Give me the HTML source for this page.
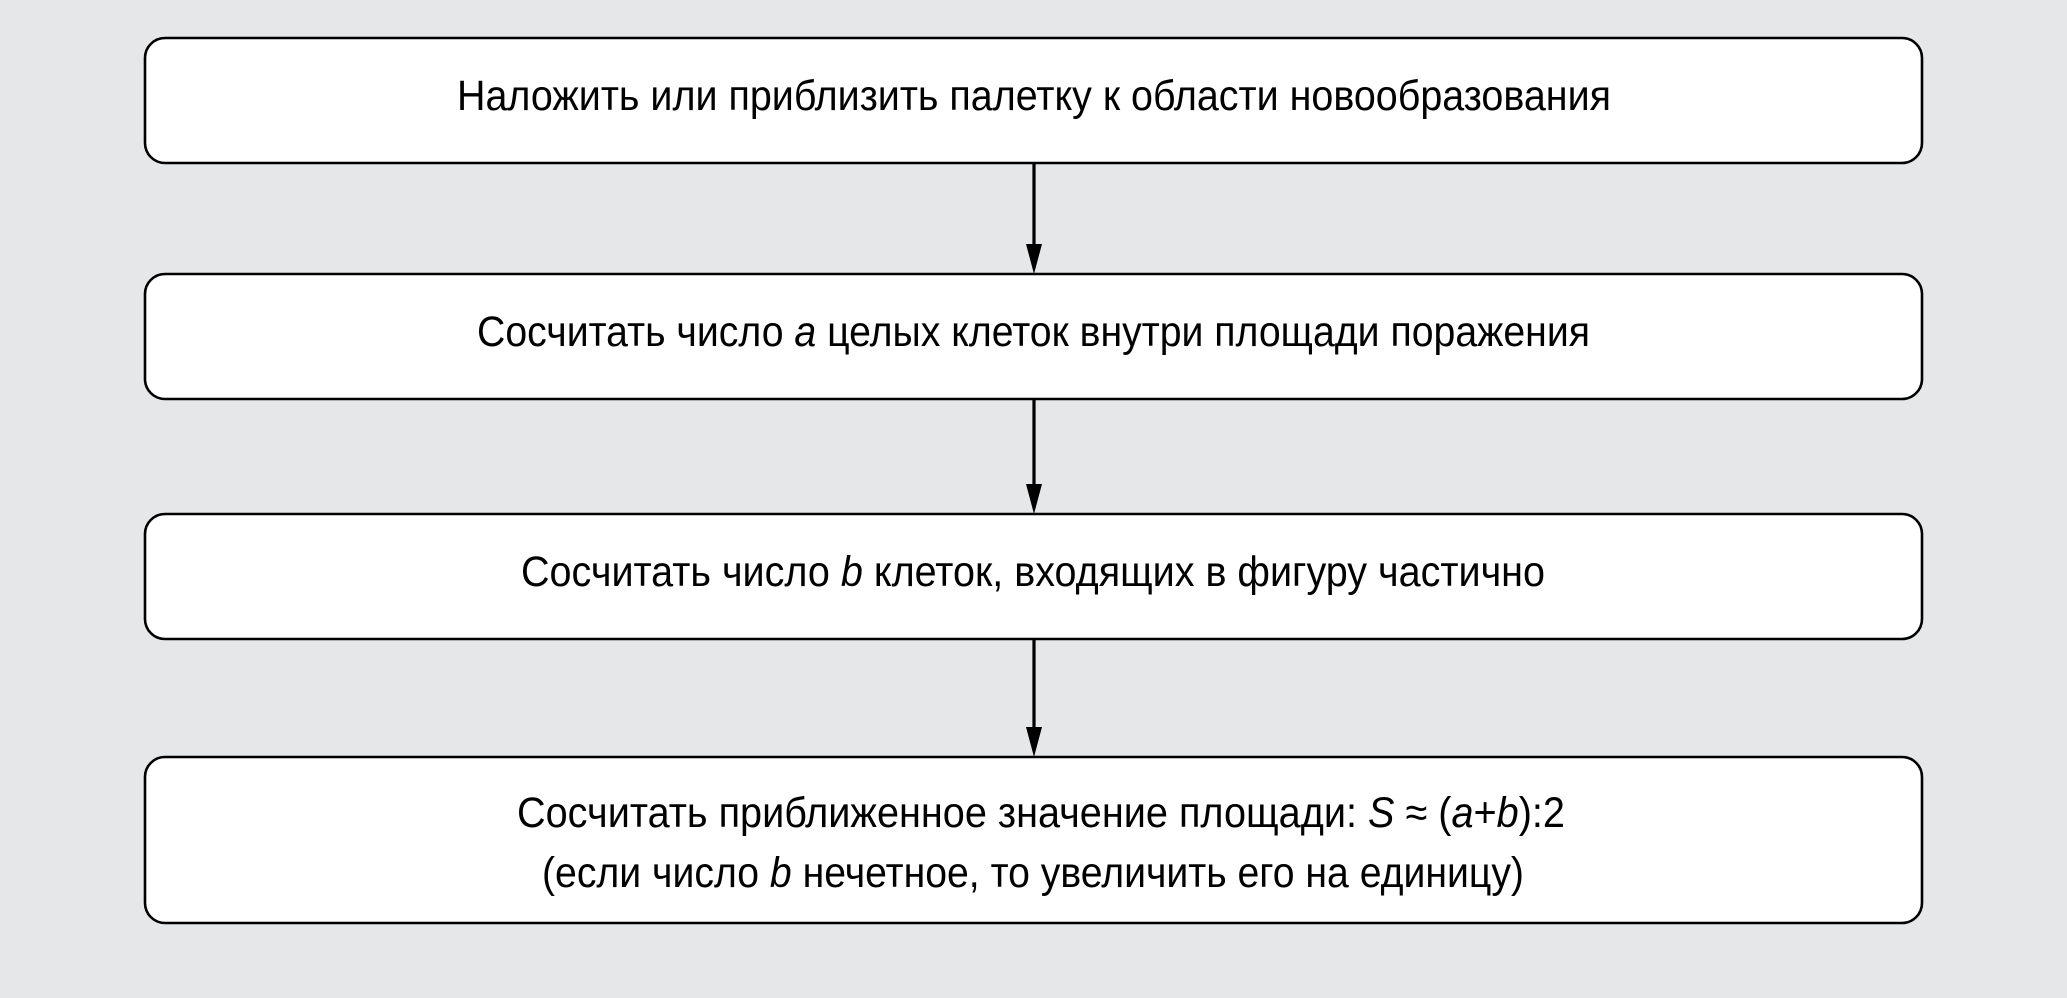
<!DOCTYPE html>
<html><head><meta charset="utf-8"><style>html,body{margin:0;padding:0;background:#e6e7e8;}svg{display:block}</style></head><body>
<svg width="2067" height="998" viewBox="0 0 2067 998" xmlns="http://www.w3.org/2000/svg">
<rect width="2067" height="998" fill="#e6e7e8"/>
<g fill="#fff" stroke="#000" stroke-width="2.6">
<rect x="145" y="38" width="1777" height="125" rx="20"/>
<rect x="145" y="274" width="1777" height="125" rx="20"/>
<rect x="145" y="514" width="1777" height="125" rx="20"/>
<rect x="145" y="757" width="1777" height="166" rx="20"/>
</g>
<g stroke="#000" stroke-width="3.2">
<line x1="1034" y1="163" x2="1034" y2="250"/>
<line x1="1034" y1="399" x2="1034" y2="490"/>
<line x1="1034" y1="639" x2="1034" y2="733"/>
</g>
<g fill="#000">
<polygon points="1026,244 1042,244 1034,274"/>
<polygon points="1026,484 1042,484 1034,514"/>
<polygon points="1026,727 1042,727 1034,757"/>
</g>
<g font-family="'Liberation Sans Narrow','Liberation Sans',sans-serif" font-size="43" fill="#000">
<text x="457" y="110" textLength="1154" lengthAdjust="spacingAndGlyphs">Наложить или приблизить палетку к области новообразования</text>
<text x="477" y="346" textLength="1113" lengthAdjust="spacingAndGlyphs">Сосчитать число <tspan font-style="italic">a</tspan> целых клеток внутри площади поражения</text>
<text x="521" y="586" textLength="1024" lengthAdjust="spacingAndGlyphs">Сосчитать число <tspan font-style="italic">b</tspan> клеток, входящих в фигуру частично</text>
<text x="517" y="827" textLength="1048" lengthAdjust="spacingAndGlyphs">Сосчитать приближенное значение площади: <tspan font-style="italic">S</tspan> ≈ (<tspan font-style="italic">a</tspan>+<tspan font-style="italic">b</tspan>):2</text>
<text x="542" y="887" textLength="982" lengthAdjust="spacingAndGlyphs">(если число <tspan font-style="italic">b</tspan> нечетное, то увеличить его на единицу)</text>
</g>
</svg>
</body></html>
